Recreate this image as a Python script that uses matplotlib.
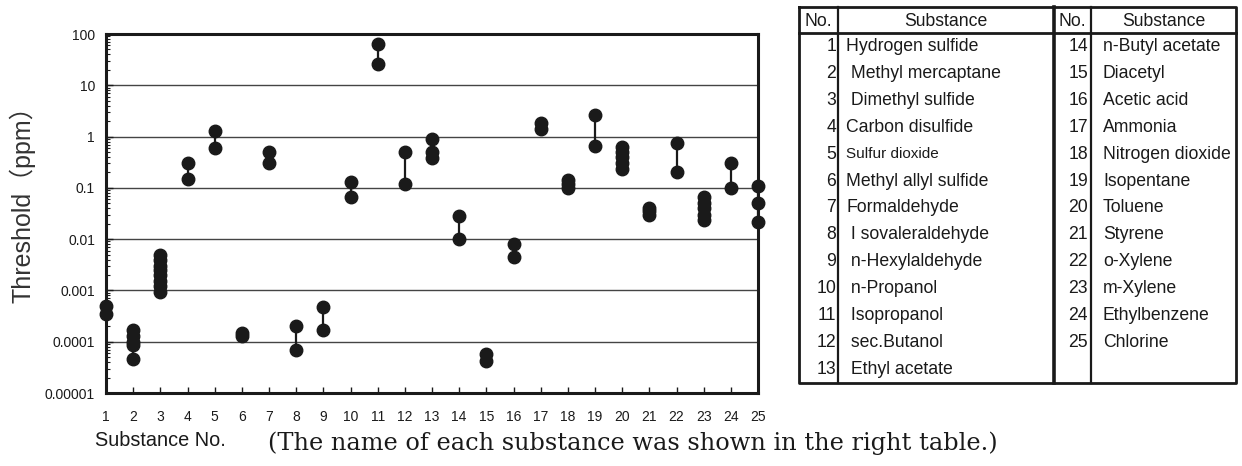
import numpy as np
import matplotlib; matplotlib.use("Agg")
import matplotlib.pyplot as plt
from matplotlib.ticker import FixedLocator, FixedFormatter, LogLocator, NullFormatter

# odour threshold values (ppm), one list per substance
thresholds = [
    [0.0005, 0.00035],
    [0.00017, 0.00013, 0.0001, 0.000087, 0.000047],
    [0.005, 0.004, 0.003, 0.0025, 0.002, 0.0015, 0.0012, 0.00095],
    [0.3, 0.15],
    [1.3, 0.6],
    [0.00015, 0.00013],
    [0.5, 0.3],
    [0.0002, 0.00007],
    [0.00048, 0.00017],
    [0.13, 0.067],
    [65, 26],
    [0.5, 0.12],
    [0.9, 0.5, 0.38],
    [0.028, 0.01],
    [0.000057, 0.000043],
    [0.008, 0.0044],
    [1.8, 1.4],
    [0.14, 0.12, 0.1],
    [2.6, 0.65],
    [0.64, 0.5, 0.4, 0.3, 0.23],
    [0.041, 0.035, 0.03],
    [0.74, 0.2],
    [0.065, 0.05, 0.04, 0.03, 0.024],
    [0.3, 0.1],
    [0.11, 0.05, 0.022],
]
substance_no = list(range(1, 26))
ytick_vals = [1e-5, 1e-4, 1e-3, 1e-2, 1e-1, 1, 10, 100]
ytick_labels = ["0.00001", "0.0001", "0.001", "0.01", "0.1", "1", "10", "100"]

names_left = ["Hydrogen sulfide", " Methyl mercaptane", " Dimethyl sulfide", "Carbon disulfide",
              "Sulfur dioxide", "Methyl allyl sulfide", "Formaldehyde", " I sovaleraldehyde",
              " n-Hexylaldehyde", " n-Propanol", " Isopropanol", " sec.Butanol", " Ethyl acetate"]
names_right = ["n-Butyl acetate", "Diacetyl", "Acetic acid", "Ammonia", "Nitrogen dioxide",
               "Isopentane", "Toluene", "Styrene", "o-Xylene", "m-Xylene", "Ethylbenzene", "Chlorine"]

INK = "#1a1a1a"
SANS = ["Liberation Sans", "DejaVu Sans"]
W, H = 1242, 466

fig = plt.figure(figsize=(W / 100, H / 100), dpi=100)
ax = fig.add_axes([106 / W, 1 - 393 / H, 652 / W, 359 / H])

for n, vals in zip(substance_no, thresholds):
    ax.vlines(n, min(vals), max(vals), color=INK, lw=1.6, clip_on=False, zorder=3)
    ax.plot([n] * len(vals), vals, "o", ms=9, color=INK, mec=INK, clip_on=False, zorder=4)

ax.set_yscale("log")
ax.set_ylim(1e-5, 100)
ax.set_xlim(1, 25)
ax.yaxis.set_major_locator(FixedLocator(ytick_vals))
ax.yaxis.set_major_formatter(FixedFormatter(ytick_labels))
ax.yaxis.set_minor_locator(LogLocator(base=10, subs=np.arange(2, 10)))
ax.yaxis.set_minor_formatter(NullFormatter())
ax.set_xticks(substance_no)
ax.tick_params(axis="y", which="major", direction="in", length=5, width=1, pad=8,
               labelsize=10, colors=INK)
ax.tick_params(axis="y", which="minor", direction="in", length=3, width=0.8, colors=INK)
ax.tick_params(axis="x", direction="in", length=4, width=1, pad=12, labelsize=10, colors=INK)
for lab in ax.get_xticklabels() + ax.get_yticklabels():
    lab.set_family(SANS)
ax.grid(True, axis="y", which="major", color="#444444", lw=1)
ax.set_axisbelow(True)
for s in ax.spines.values():
    s.set_color(INK)
    s.set_linewidth(2.2)

fig.text(22 / W, 1 - 198 / H, "Threshold\uff08ppm\uff09", rotation=90, ha="center", va="center",
         fontsize=18, color="#333333", family=["Liberation Sans", "Noto Sans CJK JP"])
fig.text(160 / W, 1 - 441 / H, "Substance No.", ha="center", va="center", fontsize=14.3,
         color=INK, family=SANS)
fig.text(268 / W, 1 - 443 / H, "(The name of each substance was shown in the right table.)",
         ha="left", va="center", fontsize=17.3, color=INK, family=["DejaVu Serif"])

# table drawn in pixel coordinates
tb = fig.add_axes([0, 0, 1, 1], zorder=5)
tb.set_xlim(0, W)
tb.set_ylim(H, 0)
tb.axis("off")
left, right, top, bottom = 799, 1236, 7, 383
header_bot = 33
row_h = (bottom - header_bot) / 13
tb.plot([left, right, right, left, left], [top, top, bottom, bottom, top], color=INK, lw=2)
tb.plot([left, right], [header_bot, header_bot], color=INK, lw=2)
for xv, lw in [(838, 1.6), (1054, 2.6), (1091, 1.6)]:
    tb.plot([xv, xv], [top, bottom], color=INK, lw=lw)
hdr_kw = dict(va="center", fontsize=12.7, color=INK, family=SANS)
tb.text((left + 838) / 2, (top + header_bot) / 2 + 1, "No.", ha="center", **hdr_kw)
tb.text((838 + 1054) / 2, (top + header_bot) / 2 + 1, "Substance", ha="center", **hdr_kw)
tb.text((1054 + 1091) / 2, (top + header_bot) / 2 + 1, "No.", ha="center", **hdr_kw)
tb.text((1091 + right) / 2, (top + header_bot) / 2 + 1, "Substance", ha="center", **hdr_kw)
for i, name in enumerate(names_left):
    y = header_bot + row_h * (i + 0.5)
    tb.text(836, y, str(i + 1), ha="right", **hdr_kw)
    fs = 11 if name.startswith("Sulfur") else 12.7
    tb.text(846, y, name, ha="left", va="center", fontsize=fs, color=INK, family=SANS)
for i, name in enumerate(names_right):
    y = header_bot + row_h * (i + 0.5)
    tb.text(1088, y, str(i + 14), ha="right", **hdr_kw)
    tb.text(1103, y, name, ha="left", va="center", fontsize=12.7, color=INK, family=SANS)

fig.savefig("out.png", dpi=100, facecolor="white")
